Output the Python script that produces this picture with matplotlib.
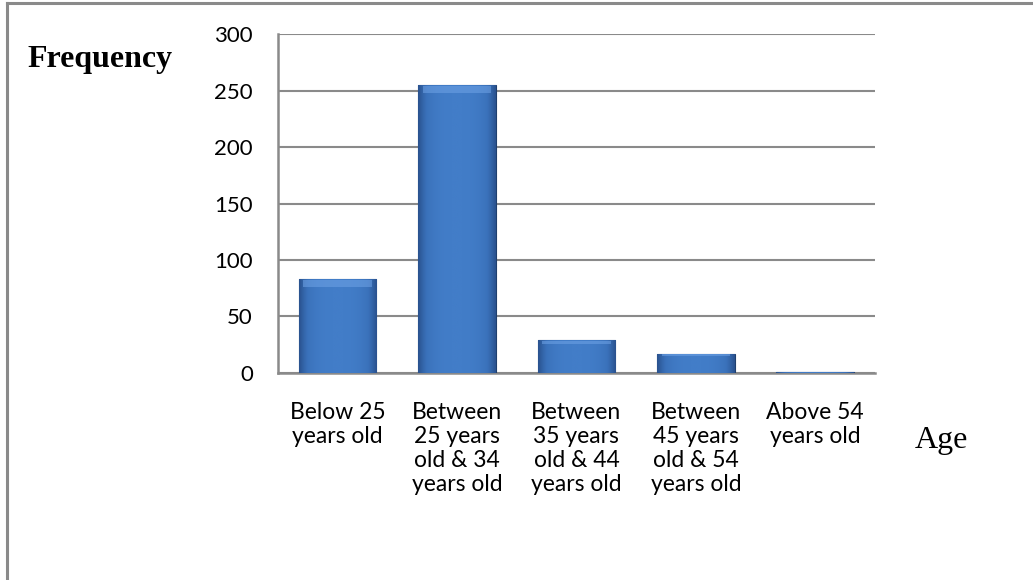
import numpy as np
import matplotlib.pyplot as plt
from matplotlib.lines import Line2D
from matplotlib.colors import LinearSegmentedColormap

# age groups and how many respondents fall in each
categories = ['Below 25\nyears old',
              'Between\n25 years\nold & 34\nyears old',
              'Between\n35 years\nold & 44\nyears old',
              'Between\n45 years\nold & 54\nyears old',
              'Above 54\nyears old']
frequency = [83, 255, 29, 17, 1]
yticks = [0, 50, 100, 150, 200, 250, 300]

GRID = '#8a8a8a'
TICK_FONT = 'Lato'
SERIF = 'Liberation Serif'

fig = plt.figure(figsize=(10.33, 5.8), dpi=100)
ax = fig.add_axes([0.269, 0.357, 0.578, 0.584])

x = np.arange(len(categories))
bars = ax.bar(x, frequency, width=0.65, color='#3c71ba',
              edgecolor='#1f3f6e', linewidth=0.8, zorder=3)

# horizontal shading inside each bar: darker edges, lighter middle
shade = np.linspace(-1, 1, 64)
shade = 1 - np.abs(shade) ** 3
shade = np.tile(shade, (8, 1))
cmap = LinearSegmentedColormap.from_list('bar', ['#2a5390', '#3a71ba', '#427dc8'])
for b in bars:
    x0, y0 = b.get_x(), b.get_y()
    w, h = b.get_width(), b.get_height()
    im = ax.imshow(shade, cmap=cmap, aspect='auto', extent=[x0, x0 + w, y0, y0 + h],
                   zorder=3.5, interpolation='bilinear')
    im.set_clip_path(b)
    # lighter bevel along the top
    top = min(h * 0.12, 7)
    ax.fill_between([x0 + w * 0.06, x0 + w * 0.94], y0 + h - top, y0 + h - 0.6,
                    color='#6fa3e6', alpha=0.55, linewidth=0, zorder=3.6)

ax.set_xlim(-0.5, len(categories) - 0.5)
ax.set_ylim(0, 300)
ax.set_yticks(yticks)
ax.set_xticks(x)
ax.set_xticklabels(categories, fontfamily=TICK_FONT, fontsize=16.5, linespacing=1.17)
for lbl in ax.get_yticklabels():
    lbl.set_fontfamily(TICK_FONT)
    lbl.set_fontsize(16)
ax.tick_params(axis='y', length=0, pad=18)
ax.tick_params(axis='x', length=0, pad=21)

ax.grid(axis='y', color=GRID, linewidth=1.5, zorder=0)
ax.set_axisbelow(True)
for s in ['top', 'right']:
    ax.spines[s].set_visible(False)
for s in ['left', 'bottom']:
    ax.spines[s].set_color(GRID)
    ax.spines[s].set_linewidth(1.8)

fig.text(0.027, 0.897, 'Frequency', fontfamily=SERIF, fontweight='bold',
         fontsize=23, va='center', ha='left')
fig.text(0.886, 0.241, 'Age', fontfamily=SERIF, fontsize=23, va='center', ha='left')

# frame lines along the top and left edge
fig.add_artist(Line2D([0.0065, 1.0], [0.994, 0.994], color=GRID, linewidth=2.2))
fig.add_artist(Line2D([0.0065, 0.0065], [0.0, 0.994], color=GRID, linewidth=2.2))

fig.savefig('out.png', dpi=100)
plt.close(fig)
